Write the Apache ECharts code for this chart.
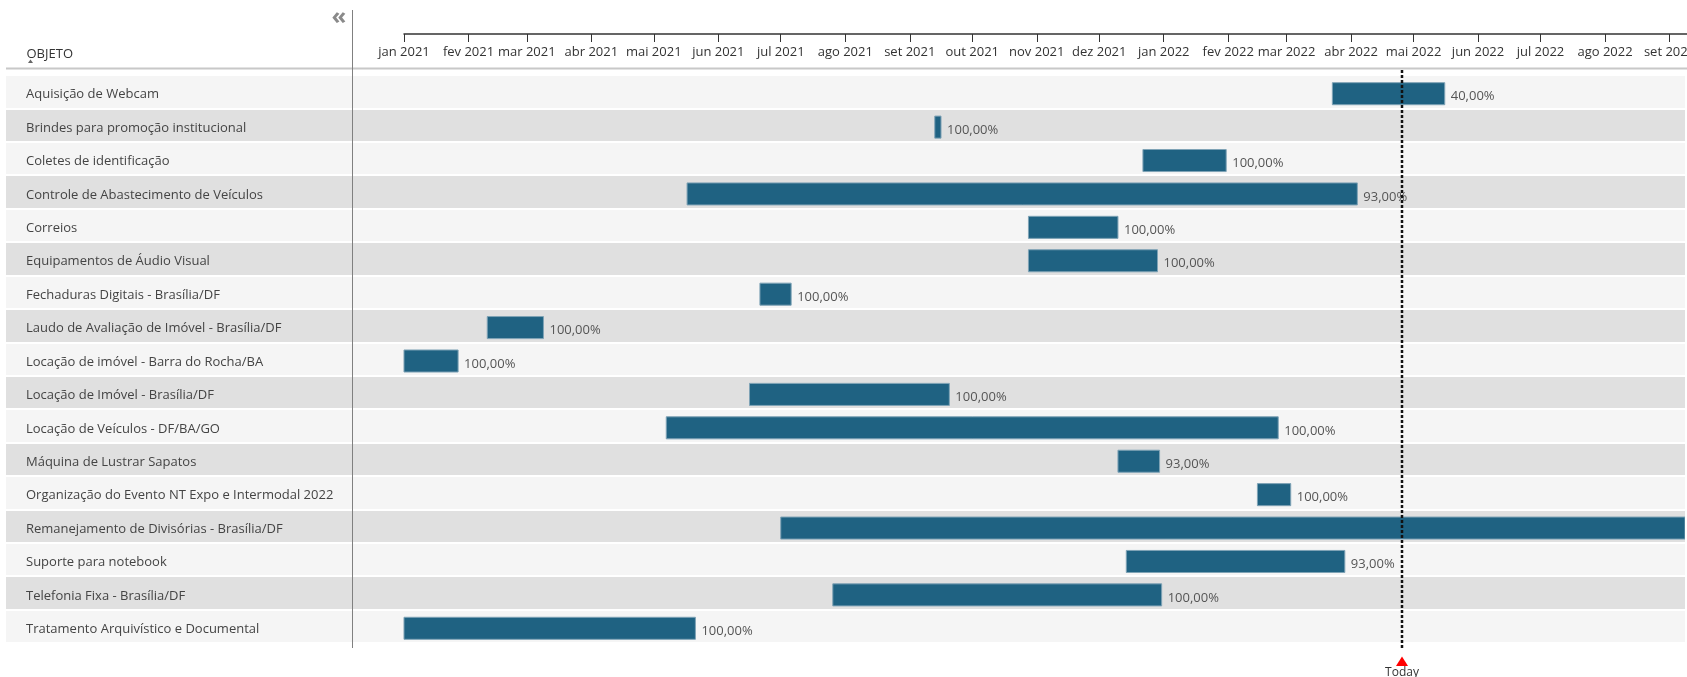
<!DOCTYPE html>
<html><head><meta charset="utf-8">
<script src="https://cdn.jsdelivr.net/npm/echarts@6/dist/echarts.min.js"></script>
<style>html,body{margin:0;padding:0;background:#fff}#c{width:1687px;height:677px}</style>
</head><body><div id="c"></div>
<script>
const categories = [
  'Aquisição de Webcam',
  'Brindes para promoção institucional',
  'Coletes de identificação',
  'Controle de Abastecimento de Veículos',
  'Correios',
  'Equipamentos de Áudio Visual',
  'Fechaduras Digitais - Brasília/DF',
  'Laudo de Avaliação de Imóvel - Brasília/DF',
  'Locação de imóvel - Barra do Rocha/BA',
  'Locação de Imóvel - Brasília/DF',
  'Locação de Veículos - DF/BA/GO',
  'Máquina de Lustrar Sapatos',
  'Organização do Evento NT Expo e Intermodal 2022',
  'Remanejamento de Divisórias - Brasília/DF',
  'Suporte para notebook',
  'Telefonia Fixa - Brasília/DF',
  'Tratamento Arquivístico e Documental'
];
const startDates = [
  '2022-03-23','2021-09-13','2021-12-22','2021-05-17','2021-10-28','2021-10-28',
  '2021-06-21','2021-02-10','2021-01-01','2021-06-16','2021-05-07','2021-12-10',
  '2022-02-15','2021-07-01','2021-12-14','2021-07-26','2021-01-01'
];
const endDates = [
  '2022-05-16','2021-09-16','2022-01-31','2022-04-04','2021-12-10','2021-12-29',
  '2021-07-06','2021-03-09','2021-01-27','2021-09-20','2022-02-25','2021-12-30',
  '2022-03-03','2022-12-31','2022-03-29','2021-12-31','2021-05-21'
];
const progress = [40, 100, 100, 93, 100, 100, 100, 100, 100, 100, 100, 93, 100, 100, 93, 100, 100];
const monthNames = ['jan','fev','mar','abr','mai','jun','jul','ago','set','out','nov','dez'];
const todayDate = '2022-04-25T12:00';
const tableStart = '2020-06-23T19:12';
const viewEnd = '2022-09-08T10:00';
const axisStart = '2021-01-01';
const axisEnd = '2022-09-19';

function t(s) {
  const parts = s.split('T');
  const [y, m, d] = parts[0].split('-').map(Number);
  let hh = 0, mi = 0;
  if (parts[1]) { [hh, mi] = parts[1].split(':').map(Number); }
  return new Date(y, m - 1, d, hh, mi).getTime();
}
function pct(v) { return v.toFixed(2).replace('.', ',') + '%'; }

const FONT = '"Open Sans", "Noto Sans", sans-serif';
const barData = categories.map((c, i) => [i, t(startDates[i]), t(endDates[i]), progress[i]]);

function renderBar(params, api) {
  const idx = api.value(0);
  const s = api.coord([api.value(1), idx]);
  const e = api.coord([api.value(2), idx]);
  const h = api.size([0, 1])[1] * 0.66;
  const cy = s[1] + 2;
  const cs = params.coordSys;
  const rect = echarts.graphic.clipRectByRect(
    { x: s[0], y: cy - h / 2, width: e[0] - s[0], height: h },
    { x: cs.x, y: cs.y, width: cs.width, height: cs.height });
  const children = [];
  if (rect) children.push({ type: 'rect', shape: rect, style: { fill: '#1f6282', stroke: '#7fa3b6', lineWidth: 1 } });
  if (e[0] + 6 < cs.x + cs.width) {
    children.push({ type: 'text', x: e[0] + 6, y: cy + 3,
      style: { text: pct(api.value(3)), fill: '#555', font: '13px ' + FONT, align: 'left', verticalAlign: 'middle' } });
  }
  return { type: 'group', children };
}

function renderToday(params, api) {
  const cs = params.coordSys;
  const x = Math.round(api.coord([api.value(0), 0])[0]);
  const top = cs.y - 5, bottom = cs.y + cs.height + 6;
  return { type: 'group', children: [
    { type: 'line', shape: { x1: x, y1: top, x2: x, y2: bottom }, style: { stroke: '#111', lineWidth: 2.5, lineDash: [3, 2] } },
    { type: 'polygon', shape: { points: [[x, bottom + 7.5], [x + 6, bottom + 17], [x - 6, bottom + 17]] }, style: { fill: '#ff0000' } },
    { type: 'text', x: x, y: bottom + 24, style: { text: 'Today', fill: '#333', font: '12px ' + FONT, align: 'center', verticalAlign: 'middle' } }
  ] };
}

const chart = echarts.init(document.getElementById('c'), null, { renderer: 'canvas' });
chart.setOption({
  animation: false,
  backgroundColor: '#fff',
  grid: [
    { left: 6, right: 2, top: 75, height: 568, outerBoundsMode: 'none', containLabel: false },
    { left: 404, width: 1303, top: 33, height: 1, outerBoundsMode: 'none', containLabel: false }
  ],
  xAxis: [
    { gridIndex: 0, type: 'time', min: t(tableStart), max: t(viewEnd), show: false },
    { gridIndex: 1, type: 'time', min: t(axisStart), max: t(axisEnd), splitNumber: 20, position: 'bottom',
      axisLine: { show: true, lineStyle: { color: '#333', width: 1.5 } },
      axisTick: { show: true, length: 8, lineStyle: { color: '#333', width: 1 } },
      splitLine: { show: false },
      axisLabel: { color: '#333', fontFamily: FONT, fontSize: 13, margin: 12, hideOverlap: false,
        showMaxLabel: false,
        formatter: function (v) { const d = new Date(v); return monthNames[d.getMonth()] + ' ' + d.getFullYear(); } } }
  ],
  yAxis: [
    { gridIndex: 0, type: 'category', data: categories, inverse: true,
      axisLine: { show: false }, axisTick: { show: false },
      axisLabel: { inside: true, margin: 20, color: '#444', fontFamily: FONT, fontSize: 13,
        verticalAlign: 'top', lineHeight: 6 },
      splitArea: { show: true, areaStyle: { color: ['#f5f5f5', '#e0e0e0'] } },
      splitLine: { show: true, lineStyle: { color: '#fff', width: 2 } } },
    { gridIndex: 1, type: 'value', show: false }
  ],
  graphic: [
    { type: 'line', shape: { x1: 6, y1: 68.5, x2: 1687, y2: 68.5 }, style: { stroke: '#c8c8c8', lineWidth: 2 }, z: 10 },
    { type: 'line', shape: { x1: 352.5, y1: 10, x2: 352.5, y2: 648 }, style: { stroke: '#808080', lineWidth: 1 }, z: 10 },
    { type: 'text', x: 339, y: 17, style: { text: '«', fill: '#8a8a8a', font: 'bold 24px ' + FONT, align: 'center', verticalAlign: 'middle' }, z: 10 },
    { type: 'text', x: 26.5, y: 54, style: { text: 'OBJETO', fill: '#333', font: '13px ' + FONT, align: 'left', verticalAlign: 'middle' }, z: 10 },
    { type: 'polygon', shape: { points: [[30.5, 59.5], [33, 63], [28, 63]] }, style: { fill: '#666' }, z: 10 }
  ],
  series: [
    { type: 'custom', name: 'bars', xAxisIndex: 0, yAxisIndex: 0, renderItem: renderBar,
      encode: { x: [1, 2], y: 0 }, data: barData, clip: true, z: 3 },
    { type: 'custom', name: 'today', xAxisIndex: 0, yAxisIndex: 0, renderItem: renderToday,
      encode: { x: 0 }, data: [[t(todayDate)]], clip: false, z: 5 }
  ]
});
</script>
</body></html>
